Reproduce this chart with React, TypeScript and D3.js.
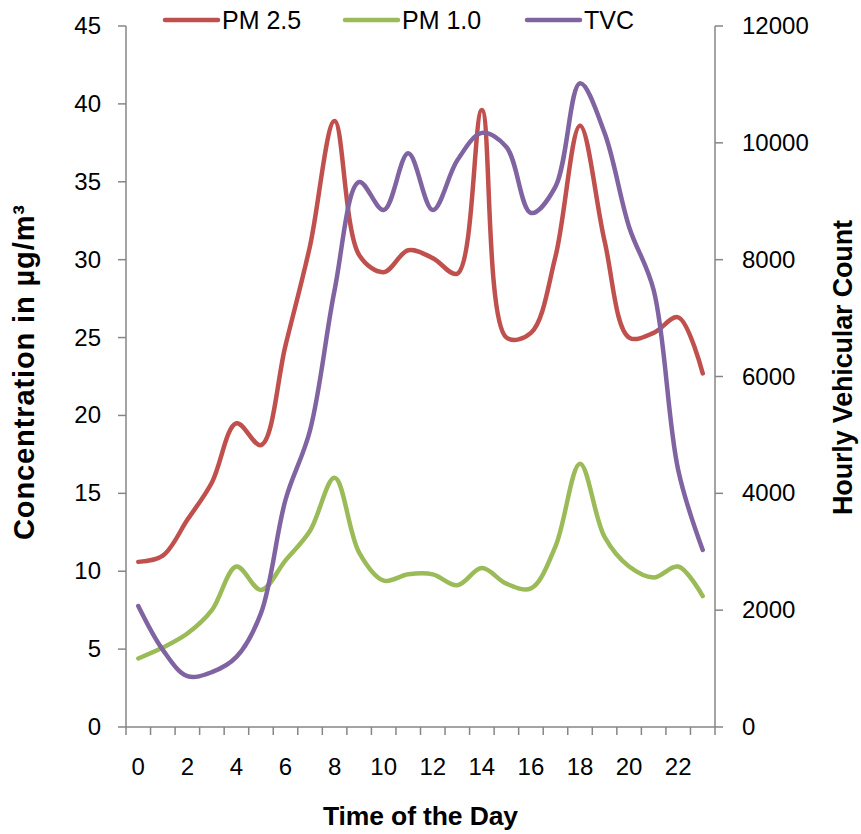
import React from "react";
import * as d3 from "d3";

const hours = d3.range(0, 24);
const xTickLabels = [0, 2, 4, 6, 8, 10, 12, 14, 16, 18, 20, 22];
const leftTicks = [0, 5, 10, 15, 20, 25, 30, 35, 40, 45];
const rightTicks = [0, 2000, 4000, 6000, 8000, 10000, 12000];

const pm25 = [10.6, 11.0, 13.3, 15.7, 19.5, 18.1, 24.5, 30.9, 38.9, 30.3, 29.2, 30.6, 30.1, 29.1, 39.6, 25.0, 25.3, 30.2, 38.6, 31.2, 25.0, 25.3, 26.3, 22.7];
const pm10 = [4.4, 5.1, 6.0, 7.5, 10.3, 8.8, 10.7, 12.6, 16.0, 11.2, 9.4, 9.8, 9.8, 9.1, 10.2, 9.2, 8.9, 11.6, 16.9, 12.2, 10.3, 9.6, 10.3, 8.4];
const tvc = [2070, 1320, 870, 940, 1200, 1950, 3890, 5080, 7480, 9330, 8850, 9820, 8850, 9700, 10170, 9930, 8800, 9250, 11020, 10170, 8560, 7480, 4400, 3030];

const seriesNames = ["PM 2.5", "PM 1.0", "TVC"];
const colors = ["#C0504D", "#9BBB59", "#8064A2"];

export default function App() {
  const left = 126, right = 715, top = 26, bottom = 727;
  const x = d3.scaleLinear().domain([-0.5, 23.5]).range([left, right]);
  const yL = d3.scaleLinear().domain([0, 45]).range([bottom, top]);
  const yR = d3.scaleLinear().domain([0, 12000]).range([bottom, top]);
  const curve = d3.curveCatmullRom.alpha(0.5);
  const lineL = d3.line<number>().x((_, i) => x(hours[i])).y((d) => yL(d)).curve(curve);
  const lineR = d3.line<number>().x((_, i) => x(hours[i])).y((d) => yR(d)).curve(curve);
  const axisColor = "#868686";
  const tickFont = "'Liberation Sans', Arial, sans-serif";
  const legendX = [165, 345, 527];

  return (
    <svg width={861} height={834} style={{ position: "absolute", left: 0, top: 0, background: "#fff" }}>
      {/* axes */}
      <line x1={left} y1={top} x2={left} y2={bottom} stroke={axisColor} strokeWidth={1.5} />
      <line x1={right} y1={top} x2={right} y2={bottom} stroke={axisColor} strokeWidth={1.5} />
      <line x1={left} y1={bottom} x2={right} y2={bottom} stroke={axisColor} strokeWidth={1.5} />
      {leftTicks.map((t) => (
        <g key={"l" + t}>
          <line x1={left - 8} x2={left} y1={yL(t)} y2={yL(t)} stroke={axisColor} strokeWidth={1.5} />
          <text x={101} y={yL(t) + 8} textAnchor="end" fontSize={24} fontFamily={tickFont} fill="#000">{t}</text>
        </g>
      ))}
      {rightTicks.map((t) => (
        <g key={"r" + t}>
          <line x1={right} x2={right + 8} y1={yR(t)} y2={yR(t)} stroke={axisColor} strokeWidth={1.5} />
          <text x={742} y={yR(t) + 8} textAnchor="start" fontSize={24} fontFamily={tickFont} fill="#000">{t}</text>
        </g>
      ))}
      {d3.range(0, 25).map((i) => (
        <line key={"xt" + i} x1={x(i - 0.5)} x2={x(i - 0.5)} y1={bottom} y2={bottom + 8} stroke={axisColor} strokeWidth={1.5} />
      ))}
      {xTickLabels.map((t) => (
        <text key={"xl" + t} x={x(t)} y={775} textAnchor="middle" fontSize={24} fontFamily={tickFont} fill="#000">{t}</text>
      ))}
      {/* lines */}
      <path d={lineL(pm25) || ""} fill="none" stroke={colors[0]} strokeWidth={4.5} strokeLinecap="round" strokeLinejoin="round" />
      <path d={lineL(pm10) || ""} fill="none" stroke={colors[1]} strokeWidth={4.5} strokeLinecap="round" strokeLinejoin="round" />
      <path d={lineR(tvc) || ""} fill="none" stroke={colors[2]} strokeWidth={4.5} strokeLinecap="round" strokeLinejoin="round" />
      {/* legend */}
      {seriesNames.map((n, i) => (
        <g key={n}>
          <line x1={legendX[i]} x2={legendX[i] + 53} y1={20} y2={20} stroke={colors[i]} strokeWidth={4.5} strokeLinecap="round" />
          <text x={legendX[i] + 57} y={29} fontSize={25} fontFamily={tickFont} fill="#000">{n}</text>
        </g>
      ))}
      {/* titles */}
      <text x={420.5} y={825} textAnchor="middle" fontSize={26.5} fontWeight="bold" fontFamily={tickFont} fill="#000" textLength={195}>Time of the Day</text>
      <text transform="translate(34,372.5) rotate(-90)" textAnchor="middle" fontSize={29} fontWeight="bold" fontFamily={tickFont} fill="#000" textLength={335}>Concentration in µg/m³</text>
      <text transform="translate(852,367.5) rotate(-90)" textAnchor="middle" fontSize={27} fontWeight="bold" fontFamily={tickFont} fill="#000" textLength={295}>Hourly Vehicular Count</text>
    </svg>
  );
}
